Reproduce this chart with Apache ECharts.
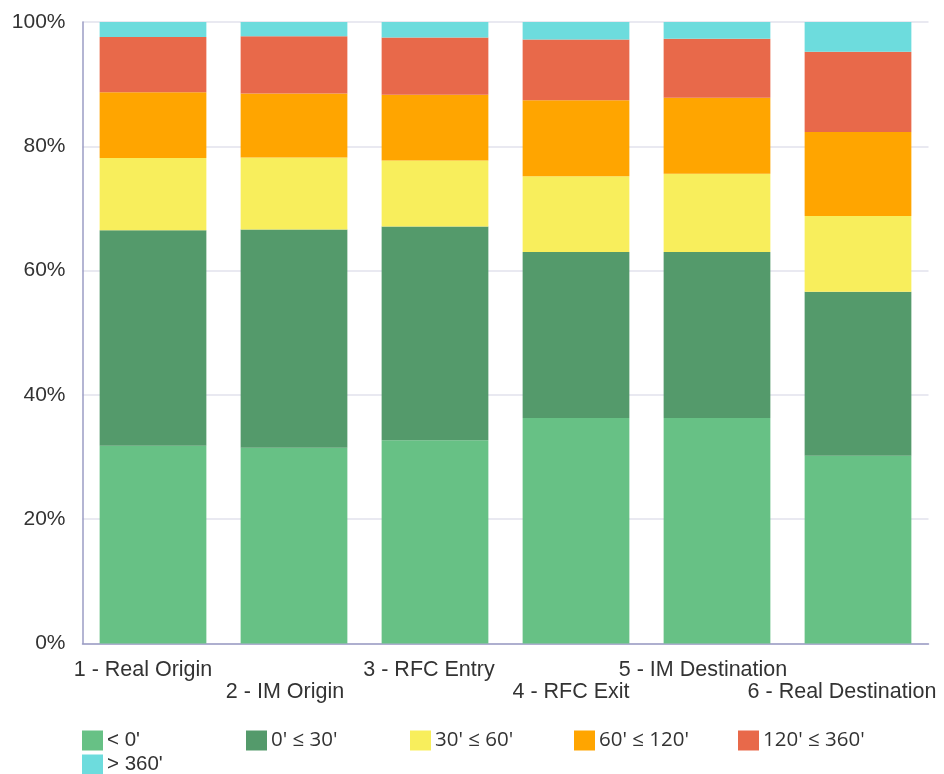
<!DOCTYPE html>
<html><head><meta charset="utf-8">
<script src="https://cdn.jsdelivr.net/npm/echarts@6/dist/echarts.min.js"></script>
<style>html,body{margin:0;padding:0;background:#fff}#c{width:944px;height:774px}</style>
</head><body><div id="c"></div>
<script>
const categories = ['1 - Real Origin','2 - IM Origin','3 - RFC Entry','4 - RFC Exit','5 - IM Destination','6 - Real Destination'];
const seriesNames = ["< 0'", "0' ≤ 30'", "30' ≤ 60'", "60' ≤ 120'", "120' ≤ 360'", "> 360'"];
const colors = ['#67c185','#549a6b','#f8ee5c','#ffa500','#e8694a','#6ddcdd'];
const lt0     = [31.8, 31.5, 32.7, 36.3, 36.3, 30.2];
const v0to30  = [34.7, 35.1, 34.4, 26.7, 26.7, 26.4];
const v30to60 = [11.6, 11.6, 10.6, 12.2, 12.6, 12.2];
const v60to120= [10.6, 10.3, 10.6, 12.2, 12.2, 13.5];
const v120to360=[ 8.9,  9.2,  9.2,  9.8,  9.5, 12.9];
const gt360   = [ 2.4,  2.3,  2.5,  2.8,  2.7,  4.8];
const yTicks = [0,20,40,60,80,100];
const allData = [lt0, v0to30, v30to60, v60to120, v120to360, gt360];

// label styling: staggered rows and a slight leftward shift per label
const labelShift = [20, 18, 12, 10, 28, 32];
const rich = {};
categories.forEach((c,i)=>{
  rich['r'+i] = {fontSize:21.5, fontFamily:'Liberation Sans', color:'#333', lineHeight:22,
    padding:[0, labelShift[i], 0, 0]};
});

const legendPos = [[82,730],[246,730],[410,730],[574,730],[738,730],[82,754]];
const legendFonts = ['Liberation Sans','Open Sans','Open Sans','Open Sans','Open Sans','Liberation Sans'];
const chart = echarts.init(document.getElementById('c'));
chart.setOption({
  animation:false,
  grid:{left:82.5,right:15.5,top:22,bottom:130.5,containLabel:false,outerBoundsMode:'none'},
  legend: seriesNames.map((n,i)=>({
    data:[n], left:legendPos[i][0], top:legendPos[i][1], orient:'horizontal',
    itemWidth:21, itemHeight:20, itemGap:6, icon:'rect', padding:0,
    textStyle:{fontSize:20.5, color:'#333', fontFamily:legendFonts[i], padding:[0,0,0,-1]}
  })),
  xAxis:{type:'category', data:categories,
    axisLine:{lineStyle:{color:'#9b9cc4',width:1.5}},
    axisTick:{show:false},
    axisLabel:{interval:0, margin:16, fontSize:21.5, color:'#333', fontFamily:'Liberation Sans', lineHeight:22,
      verticalAlign:'top', hideOverlap:false,
      rich: rich,
      formatter:(v,i)=> (i%2===1 ? '\n' : '') + '{r'+i+'|'+v+'}'}
  },
  yAxis:{type:'value', min:yTicks[0], max:yTicks[yTicks.length-1], interval:20,
    axisLine:{show:true, lineStyle:{color:'#9b9cc4',width:1.5}},
    axisTick:{show:false},
    splitLine:{lineStyle:{color:'#e2e2ec',width:1.5}},
    axisLabel:{margin:17, fontSize:21, color:'#333', fontFamily:'Liberation Sans', formatter:'{value}%'}
  },
  series: seriesNames.map((n,i)=>({
    name:n, type:'bar', stack:'total', data:allData[i], barCategoryGap:'24.3%',
    itemStyle:{color:colors[i]}
  }))
});
</script></body></html>
